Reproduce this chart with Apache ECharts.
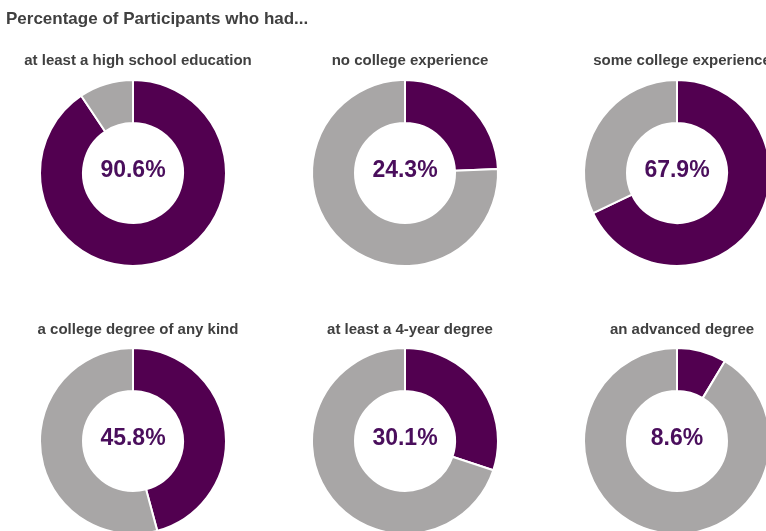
<!DOCTYPE html>
<html>
<head>
<meta charset="utf-8">
<script src="https://cdn.jsdelivr.net/npm/echarts@6/dist/echarts.min.js"></script>
<style>
  html, body { margin: 0; padding: 0; background: #ffffff; }
  #chart { width: 766px; height: 531px; }
</style>
</head>
<body>
<div id="chart"></div>
<script>
// Share of participants reaching each education level (percent)
const categories = [
  'at least a high school education',
  'no college experience',
  'some college experience',
  'a college degree of any kind',
  'at least a 4-year degree',
  'an advanced degree'
];
const percentages = [90.6, 24.3, 67.9, 45.8, 30.1, 8.6];

const PURPLE = '#520050';
const GREY = '#a8a6a6';
const TEXT = '#404040';
const FONT = '"Liberation Sans", Arial, sans-serif';

// grid placement of the six rings
const colX = [133, 405, 677];
const rowY = [173, 441];
const labelY = [57, 326];

const chart = echarts.init(document.getElementById('chart'), null, { renderer: 'canvas' });

const titles = [{
  text: 'Percentage of Participants who had...',
  left: 1, top: 6,
  textStyle: { fontFamily: FONT, fontSize: 17, fontWeight: 'bold', color: TEXT }
}];
const series = [];

categories.forEach((name, i) => {
  const col = i % 3, row = Math.floor(i / 3);
  titles.push({
    text: name,
    left: colX[col], top: labelY[row] - 9,
    textAlign: 'center',
    textStyle: { fontFamily: FONT, fontSize: 15, fontWeight: 'bold', color: TEXT }
  });
  const v = percentages[i];
  series.push({
    type: 'pie',
    name: name,
    center: [colX[col], rowY[row]],
    radius: [50, 93],
    startAngle: 90,
    clockwise: true,
    silent: true,
    avoidLabelOverlap: false,
    labelLine: { show: false },
    itemStyle: { borderColor: '#ffffff', borderWidth: 2 },
    data: [
      {
        value: v, name: 'had',
        itemStyle: { color: PURPLE },
        label: {
          show: true, position: 'center',
          formatter: '{c}%',
          fontFamily: FONT, fontSize: 23, fontWeight: 'bold', color: '#4a0e5c',
          offset: [0, -2]
        }
      },
      {
        value: +(100 - v).toFixed(1), name: 'did not',
        itemStyle: { color: GREY },
        label: { show: false }
      }
    ]
  });
});

chart.setOption({
  animation: false,
  backgroundColor: '#ffffff',
  title: titles,
  series: series
});
</script>
</body>
</html>
